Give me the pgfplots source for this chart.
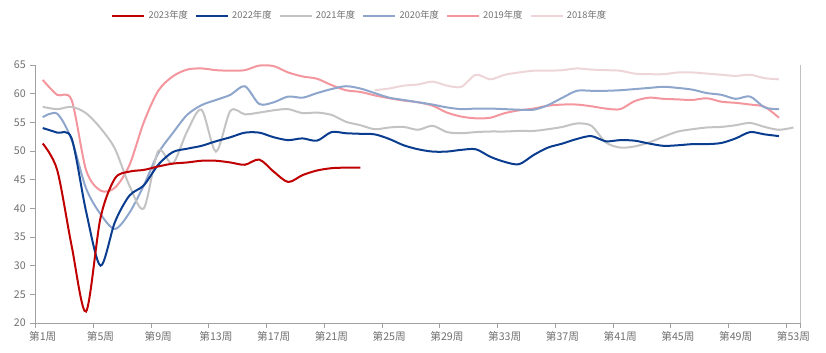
\documentclass[border=0pt]{standalone}
\usepackage{fontspec}
\setmainfont{Noto Sans CJK SC}
\usepackage{pgfplots}
\pgfplotsset{compat=1.18}
\definecolor{c23}{HTML}{C00000}
\definecolor{c22}{HTML}{0A3D8F}
\definecolor{c21}{HTML}{C3C3C3}
\definecolor{c20}{HTML}{8EA6CC}
\definecolor{c19}{HTML}{F4969E}
\definecolor{c18}{HTML}{EDD5D8}
\definecolor{axcol}{HTML}{A0A0A0}
\definecolor{txt}{HTML}{707070}
\begin{document}
\begin{tikzpicture}
\path[use as bounding box] (-26.625pt,-22.5pt) rectangle (592.875pt,242.25pt);
\begin{axis}[
  at={(0pt,0pt)}, anchor=south west,
  scale only axis, width=573.9pt, height=193.5pt,
  xmin=0.5, xmax=53.5, ymin=20, ymax=65,
  axis x line*=bottom, axis y line*=left,
  axis line style={axcol, line width=0.6pt},
  tick align=outside, major tick length=3.75pt,
  tick style={axcol, line width=0.6pt},
  ytick={20,25,...,65},
  xtick={0.5,4.5,...,52.5,53.5},
  xticklabels={},
  extra x ticks={1,5,...,53},
  extra x tick labels={第1周,第5周,第9周,第13周,第17周,第21周,第25周,第29周,第33周,第37周,第41周,第45周,第49周,第53周},
  extra x tick style={major tick length=0pt, xticklabel style={yshift=-2.5pt}},
  ticklabel style={font=\fontsize{8}{9}\selectfont, text=txt},
  /pgf/number format/assume math mode=true,
  legend columns=6, reverse legend,
  legend style={at={(0.424,1.19)}, anchor=center, draw=none, fill=none,
    font=\fontsize{7}{8}\selectfont, text=txt,
    /tikz/every even column/.append style={column sep=3pt}},
  legend image code/.code={\draw[#1, line width=2.2pt] (0pt,0pt) -- (24pt,0pt);},
  every axis plot/.append style={line width=1.5pt, smooth, tension=0.5, mark=none},
]
\addplot[c18] coordinates {
(24,60.6)(25,60.9)(26,61.4)(27,61.6)(28,62.1)(29,61.4)(30,61.2)(31,63.3)(32,62.5)(33,63.3)
(34,63.7)(35,64.0)(36,64.0)(37,64.1)(38,64.4)(39,64.2)(40,64.1)(41,64.0)(42,63.5)(43,63.4)
(44,63.4)(45,63.7)(46,63.7)(47,63.5)(48,63.3)(49,63.1)(50,63.3)(51,62.7)(52,62.5)};
\addlegendentry{2018年度}
\addplot[c19] coordinates {
(1,62.4)(2,59.8)(3,58.9)(4,46.7)(5,43.1)(6,43.6)(7,47.5)(8,55.0)(9,60.5)(10,63.0)
(11,64.2)(12,64.4)(13,64.1)(14,64.0)(15,64.1)(16,64.9)(17,64.8)(18,63.7)(19,63.0)(20,62.6)
(21,61.5)(22,60.6)(23,60.3)(24,59.7)(25,59.2)(26,58.8)(27,58.5)(28,57.9)(29,56.7)(30,56.0)
(31,55.7)(32,55.8)(33,56.6)(34,57.1)(35,57.4)(36,57.9)(37,58.1)(38,58.1)(39,57.8)(40,57.4)
(41,57.3)(42,58.7)(43,59.3)(44,59.1)(45,59.0)(46,58.9)(47,59.2)(48,58.6)(49,58.4)(50,58.1)
(51,57.7)(52,55.8)};
\addlegendentry{2019年度}
\addplot[c20] coordinates {
(1,55.9)(2,56.5)(3,52.0)(4,43.5)(5,39.0)(6,36.4)(7,39.2)(8,44.0)(9,49.6)(10,53.1)
(11,56.3)(12,58.0)(13,58.9)(14,59.8)(15,61.3)(16,58.2)(17,58.5)(18,59.5)(19,59.3)(20,60.1)
(21,60.8)(22,61.3)(23,60.9)(24,60.1)(25,59.3)(26,58.9)(27,58.5)(28,58.1)(29,57.6)(30,57.3)
(31,57.4)(32,57.4)(33,57.3)(34,57.2)(35,57.2)(36,58.0)(37,59.3)(38,60.5)(39,60.5)(40,60.5)
(41,60.6)(42,60.8)(43,61.0)(44,61.2)(45,61.0)(46,60.7)(47,60.1)(48,59.8)(49,59.1)(50,59.5)
(51,57.6)(52,57.3)};
\addlegendentry{2020年度}
\addplot[c21] coordinates {
(1,57.7)(2,57.3)(3,57.7)(4,56.6)(5,54.0)(6,50.4)(7,44.0)(8,40.0)(9,50.0)(10,47.8)
(11,53.4)(12,57.2)(13,49.9)(14,57.0)(15,56.4)(16,56.7)(17,57.1)(18,57.3)(19,56.6)(20,56.7)
(21,56.3)(22,55.1)(23,54.5)(24,53.8)(25,54.1)(26,54.2)(27,53.7)(28,54.4)(29,53.3)(30,53.1)
(31,53.3)(32,53.4)(33,53.4)(34,53.5)(35,53.5)(36,53.8)(37,54.2)(38,54.8)(39,54.4)(40,51.5)
(41,50.6)(42,50.8)(43,51.5)(44,52.5)(45,53.4)(46,53.8)(47,54.1)(48,54.2)(49,54.5)(50,54.9)
(51,54.2)(52,53.7)(53,54.1)};
\addlegendentry{2021年度}
\addplot[c22] coordinates {
(1,54.0)(2,53.2)(3,52.2)(4,39.5)(5,30.0)(6,37.6)(7,42.2)(8,44.0)(9,47.6)(10,49.8)
(11,50.4)(12,50.9)(13,51.7)(14,52.4)(15,53.2)(16,53.2)(17,52.4)(18,51.9)(19,52.2)(20,51.8)
(21,53.3)(22,53.1)(23,53.0)(24,52.9)(25,52.1)(26,51.0)(27,50.3)(28,49.9)(29,49.9)(30,50.2)
(31,50.3)(32,49.0)(33,48.1)(34,47.7)(35,49.3)(36,50.6)(37,51.3)(38,52.1)(39,52.6)(40,51.7)
(41,51.9)(42,51.8)(43,51.3)(44,50.9)(45,51.0)(46,51.2)(47,51.2)(48,51.4)(49,52.2)(50,53.3)
(51,52.9)(52,52.6)};
\addlegendentry{2022年度}
\addplot[c23] coordinates {
(1,51.3)(2,46.7)(3,33.5)(4,22.0)(5,38.3)(6,45.2)(7,46.4)(8,46.7)(9,47.3)(10,47.8)
(11,48.0)(12,48.3)(13,48.3)(14,48.0)(15,47.6)(16,48.5)(17,46.4)(18,44.6)(19,45.8)(20,46.6)
(21,47.0)(22,47.1)(23,47.1)};
\addlegendentry{2023年度}
\draw[axcol, line width=0.6pt] (axis cs:53.5,20) -- (axis cs:53.5,65);
\end{axis}
\end{tikzpicture}
\end{document}
